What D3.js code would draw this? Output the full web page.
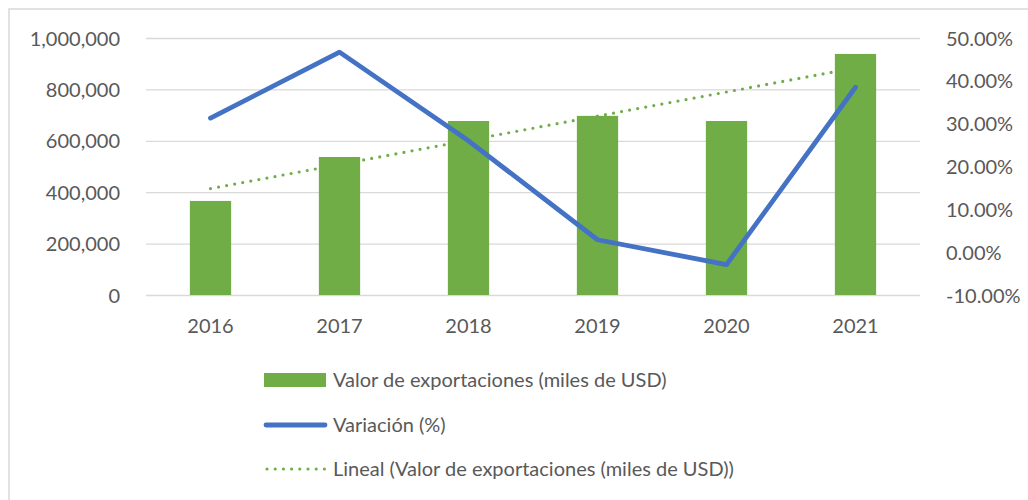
<!DOCTYPE html>
<html>
<head>
<meta charset="utf-8">
<script src="https://cdn.jsdelivr.net/npm/d3@7"></script>
<style>
  body { margin: 0; background: #fff; }
  text { font-family: Lato, "Open Sans", sans-serif; fill: #595959; }
</style>
</head>
<body>
<svg id="chart" width="1028" height="500"></svg>
<script>
// data
const years = ["2016", "2017", "2018", "2019", "2020", "2021"];
const exportValues = [366000, 537000, 677000, 697000, 677000, 938000];
const variation = [0.313, 0.467, 0.26, 0.029, -0.029, 0.385];
// linear trend (first and last year)
const trendYears = ["2016", "2021"];
const trendValues = [414000, 884000];
const leftTicks = [0, 200000, 400000, 600000, 800000, 1000000];
const rightTicks = [-0.1, 0, 0.1, 0.2, 0.3, 0.4, 0.5];
const legendLabels = [
  "Valor de exportaciones (miles de USD)",
  "Variación (%)",
  "Lineal (Valor de exportaciones (miles de USD))"
];

const green = "#70AD47", blue = "#4472C4";
const svg = d3.select("#chart");
const margin = {left: 146, right: 108, top: 38, bottom: 205};
const W = 1028, H = 500;

// chart area border
svg.append("rect")
  .attr("x", 9).attr("y", 9).attr("width", 1040).attr("height", 520)
  .attr("fill", "none").attr("stroke", "#d9d9d9").attr("stroke-width", 1.5);

const x = d3.scaleBand().domain(years)
  .range([margin.left, W - margin.right]).paddingInner(0.68).paddingOuter(0.34);
const y = d3.scaleLinear().domain([0, 1000000]).range([H - margin.bottom, margin.top]);
const y2 = d3.scaleLinear().domain([-0.1, 0.5]).range([H - margin.bottom, margin.top]);
const cx = d => x(d) + x.bandwidth() / 2;
const pct = d3.format(".2%");

// gridlines
svg.append("g")
  .attr("transform", `translate(${margin.left},0)`)
  .call(d3.axisLeft(y).tickValues(leftTicks).tickSize(-(W - margin.left - margin.right)).tickFormat(""))
  .call(g => g.select(".domain").remove())
  .call(g => g.selectAll("line").attr("stroke", "#d9d9d9").attr("stroke-width", 1.3));

// left axis labels
svg.append("g")
  .attr("transform", `translate(${margin.left - 23},0)`)
  .call(d3.axisLeft(y).tickValues(leftTicks).tickSize(0).tickFormat(d3.format(",")))
  .call(g => g.select(".domain").remove())
  .call(g => g.selectAll("text").attr("font-size", 20).attr("font-family", null).attr("fill", null).attr("dy", "0.35em"));

// right axis labels
svg.append("g")
  .attr("transform", `translate(${W - margin.right + 23},0)`)
  .call(d3.axisRight(y2).tickValues(rightTicks).tickSize(0).tickFormat(d => pct(d).replace("−", "-")))
  .call(g => g.select(".domain").remove())
  .call(g => g.selectAll("text").attr("font-size", 20).attr("font-family", null).attr("fill", null).attr("dy", "0.35em"));

// bottom axis labels
svg.append("g")
  .attr("transform", `translate(0,${H - margin.bottom + 21})`)
  .call(d3.axisBottom(x).tickSize(0))
  .call(g => g.select(".domain").remove())
  .call(g => g.selectAll("text").attr("font-size", 20).attr("font-family", null).attr("fill", null));

// bars
svg.append("g").selectAll("rect")
  .data(years)
  .join("rect")
  .attr("x", d => x(d))
  .attr("width", x.bandwidth())
  .attr("y", (d, i) => y(exportValues[i]))
  .attr("height", (d, i) => y(0) - y(exportValues[i]))
  .attr("fill", green);

// trend line
svg.append("path")
  .datum(trendYears.map((d, i) => [cx(d), y(trendValues[i])]))
  .attr("d", d3.line())
  .attr("fill", "none").attr("stroke", green)
  .attr("stroke-width", 3.2).attr("stroke-linecap", "round")
  .attr("stroke-dasharray", "0 8.2");

// variation line
svg.append("path")
  .datum(years.map((d, i) => [cx(d), y2(variation[i])]))
  .attr("d", d3.line())
  .attr("fill", "none").attr("stroke", blue)
  .attr("stroke-width", 4.8).attr("stroke-linecap", "round").attr("stroke-linejoin", "round");

// legend
const lg = svg.append("g");
const rowY = [380, 425, 469];
lg.append("rect").attr("x", 264).attr("y", rowY[0] - 7).attr("width", 62).attr("height", 14).attr("fill", green);
lg.append("line").attr("x1", 266).attr("x2", 325).attr("y1", rowY[1]).attr("y2", rowY[1])
  .attr("stroke", blue).attr("stroke-width", 4.8).attr("stroke-linecap", "round");
lg.append("line").attr("x1", 267).attr("x2", 327).attr("y1", rowY[2]).attr("y2", rowY[2])
  .attr("stroke", green).attr("stroke-width", 3.2).attr("stroke-linecap", "round").attr("stroke-dasharray", "0 8.2");
lg.selectAll("text.lab")
  .data(legendLabels)
  .join("text")
  .attr("class", "lab")
  .attr("x", 333)
  .attr("y", (d, i) => rowY[i])
  .attr("dy", "0.35em")
  .attr("font-size", 20)
  .text(d => d);
</script>
</body>
</html>
